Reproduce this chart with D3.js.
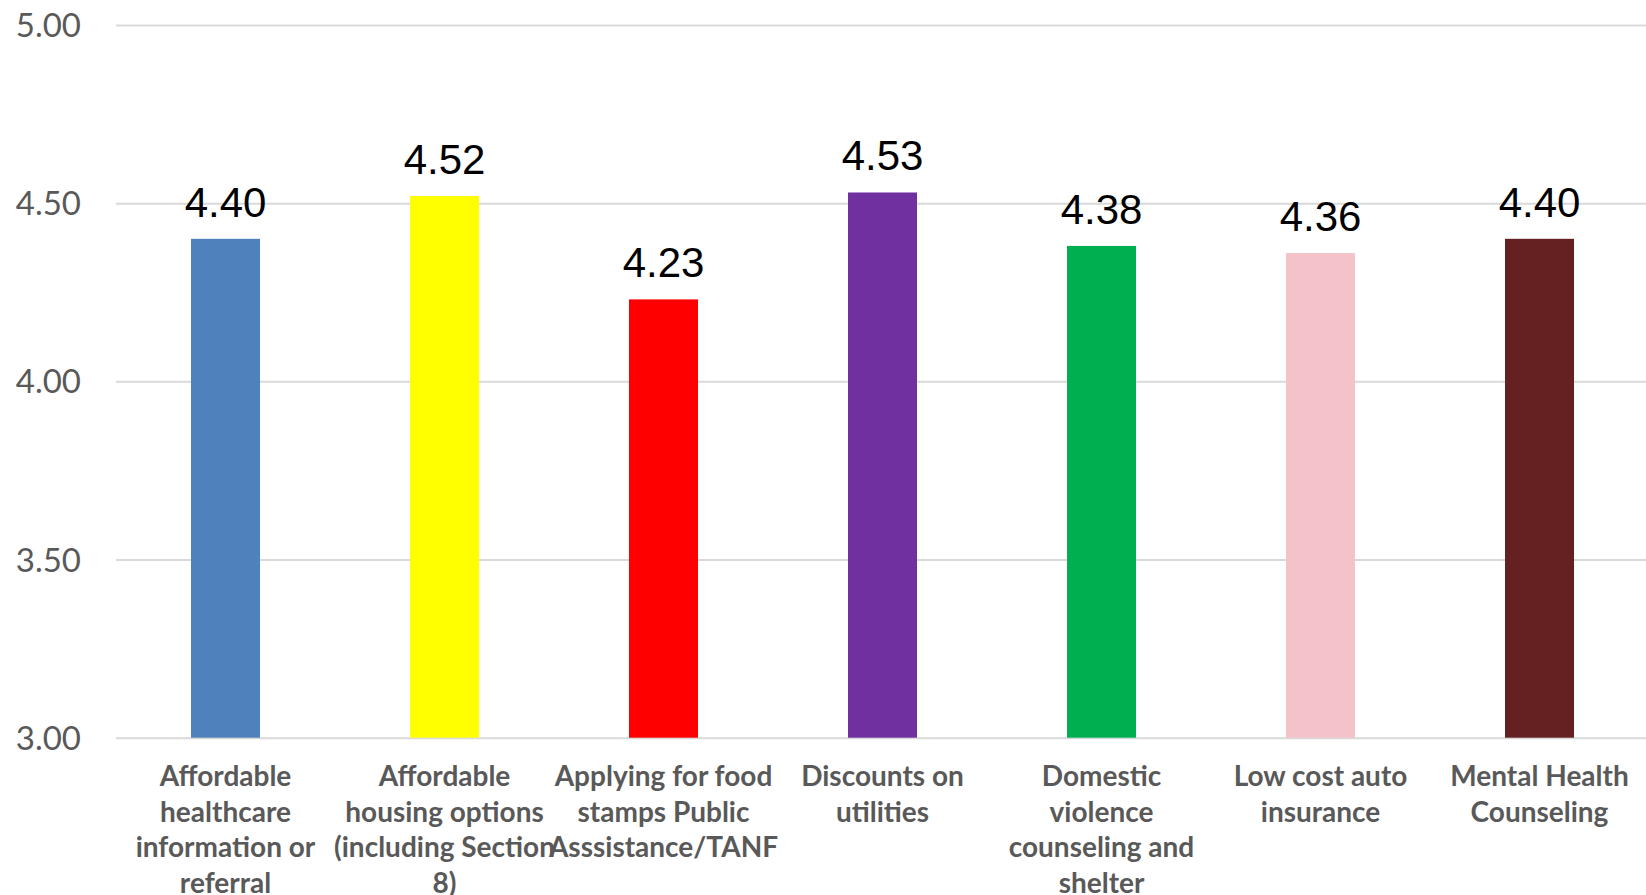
<!DOCTYPE html>
<html>
<head>
<meta charset="utf-8">
<script src="https://cdn.jsdelivr.net/npm/d3@7"></script>
<style>
  html, body { margin: 0; padding: 0; background: #ffffff; overflow: hidden; }
  svg { display: block; }
</style>
</head>
<body>
<svg id="chart" width="1646" height="895"></svg>
<script>
// ---- data ----
const categories = [
  "Affordable healthcare information or referral",
  "Affordable housing options (including Section 8)",
  "Applying for food stamps Public Asssistance/TANF",
  "Discounts on utilities",
  "Domestic violence counseling and shelter",
  "Low cost auto insurance",
  "Mental Health Counseling"
];
const categoryLines = [
  ["Affordable", "healthcare", "information or", "referral"],
  ["Affordable", "housing options", "(including Section", "8)"],
  ["Applying for food", "stamps Public", "Asssistance/TANF"],
  ["Discounts on", "utilities"],
  ["Domestic", "violence", "counseling and", "shelter"],
  ["Low cost auto", "insurance"],
  ["Mental Health", "Counseling"]
];
const values = [4.40, 4.52, 4.23, 4.53, 4.38, 4.36, 4.40];
const barColors = ["#4F81BD", "#FFFF00", "#FF0000", "#7030A0", "#00B050", "#F4C2C9", "#652022"];
const tickValues = [3.00, 3.50, 4.00, 4.50, 5.00];

// ---- layout ----
const W = 1646, H = 895;
const mLeft = 116, mRight = 1649, mTop = 25, mBottom = 737.7;

const svg = d3.select("#chart");

const x = d3.scaleBand()
  .domain(categories)
  .range([mLeft, mRight])
  .paddingInner(0.685)
  .paddingOuter(0.3425);

const y = d3.scaleLinear()
  .domain([3, 5])
  .range([mBottom, mTop]);

// gridlines + tick labels
const yAxis = d3.axisLeft(y)
  .tickValues(tickValues)
  .tickFormat(d3.format(".2f"))
  .tickSize(-(W - mLeft))
  .tickPadding(35);

const gy = svg.append("g")
  .attr("transform", `translate(${mLeft},0)`)
  .call(yAxis);
gy.select(".domain").remove();
gy.selectAll(".tick line")
  .attr("stroke", "#d9d9d9")
  .attr("stroke-width", 2);
gy.selectAll(".tick text")
  .attr("fill", "#595959")
  .attr("font-family", "Lato, 'Open Sans', sans-serif")
  .attr("font-size", 33)
  .attr("dy", "0.35em");

// bars
svg.append("g")
  .selectAll("rect")
  .data(values)
  .join("rect")
  .attr("x", (d, i) => x(categories[i]))
  .attr("width", x.bandwidth())
  .attr("y", d => y(d))
  .attr("height", d => y(3) - y(d))
  .attr("fill", (d, i) => barColors[i]);

// value labels
svg.append("g")
  .selectAll("text")
  .data(values)
  .join("text")
  .attr("x", (d, i) => x(categories[i]) + x.bandwidth() / 2)
  .attr("y", d => y(d) - 22)
  .attr("text-anchor", "middle")
  .attr("font-family", "'Liberation Sans', Arial, sans-serif")
  .attr("font-size", 42)
  .attr("fill", "#000000")
  .text(d => d3.format(".2f")(d));

// category labels
const lineH = 35.7;
const firstLineY = 776;
const cg = svg.append("g");
categoryLines.forEach((lines, i) => {
  const cx = x(categories[i]) + x.bandwidth() / 2;
  const t = cg.append("text")
    .attr("x", cx)
    .attr("y", firstLineY)
    .attr("text-anchor", "middle")
    .attr("font-family", "Lato, 'Open Sans', sans-serif")
    .attr("font-weight", "bold")
    .attr("font-size", 28)
    .attr("fill", "#595959");
  lines.forEach((ln, j) => {
    t.append("tspan")
      .attr("x", cx)
      .attr("y", firstLineY + j * lineH)
      .attr("dy", "0.35em")
      .text(ln);
  });
});
</script>
</body>
</html>
